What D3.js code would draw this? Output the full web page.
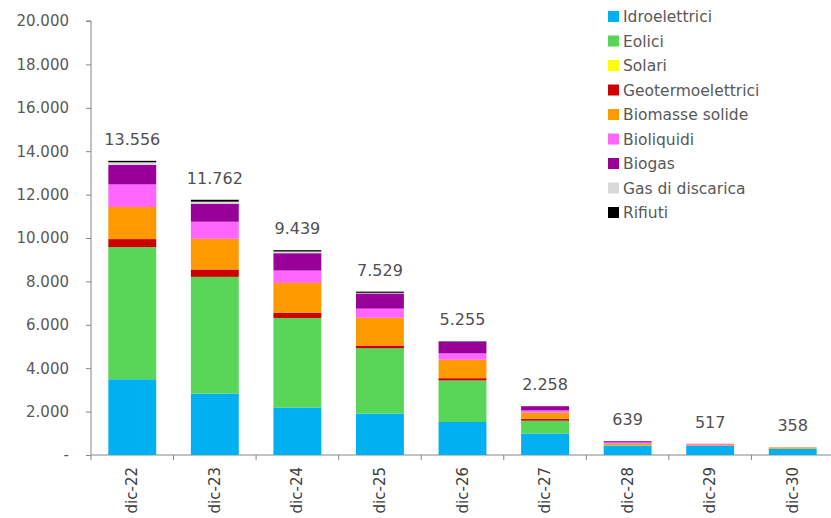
<!DOCTYPE html>
<html><head><meta charset="utf-8">
<script src="https://cdn.jsdelivr.net/npm/d3@7"></script>
<style>body{margin:0;background:#fff}svg{display:block}text{font-family:"DejaVu Sans",Verdana,sans-serif}</style>
</head><body><svg id="c" width="831" height="518"></svg>
<script>
const categories = ["dic-22","dic-23","dic-24","dic-25","dic-26","dic-27","dic-28","dic-29","dic-30"];
const seriesNames = ["Idroelettrici","Eolici","Solari","Geotermoelettrici","Biomasse solide","Bioliquidi","Biogas","Gas di discarica","Rifiuti"];
const colors = ["#00B0F0","#57D657","#FFFF00","#CC0000","#FF9900","#FF66FF","#990099","#D9D9D9","#000000"];
const idroelettrici = [3490,2830,2190,1910,1520,990,430,425,280];
const eolici        = [6090,5380,4125,3010,1915,590,20,2,10];
const solari        = [0,0,0,0,0,0,0,0,0];
const geotermo      = [370,340,245,125,106,92,0,0,0];
const biomasse      = [1480,1415,1370,1280,850,278,70,40,60];
const bioliquidi    = [1040,785,570,420,292,105,60,45,8];
const biogas        = [900,830,800,700,525,195,55,5,0];
const gasDiscarica  = [120,95,78,30,25,5,2,0,0];
const rifiuti       = [66,87,61,54,22,3,2,0,0];
const totals        = [13556,11762,9439,7529,5255,2258,639,517,358];
const yTicks = [0,2000,4000,6000,8000,10000,12000,14000,16000,18000,20000];

const seriesVals = [idroelettrici,eolici,solari,geotermo,biomasse,bioliquidi,biogas,gasDiscarica,rifiuti];
const table = categories.map((c,i)=>{const o={cat:c};seriesNames.forEach((s,j)=>o[s]=seriesVals[j][i]);return o;});
const stack = d3.stack().keys(seriesNames)(table);

const svg = d3.select("#c");
const x0 = 91, x1 = 834, yTop = 21, yBot = 455;
const x = d3.scaleBand().domain(categories).range([x0,x1]).paddingInner(0.42).paddingOuter(0.21);
const y = d3.scaleLinear().domain([0,20000]).range([yBot,yTop]);
const fmt = v => v===0 ? "-" : d3.format(",")(v).replace(/,/g,".");

// y axis
const ya = svg.append("g").attr("transform",`translate(${x0},0)`)
  .call(d3.axisLeft(y).tickValues(yTicks).tickFormat(fmt).tickSize(5).tickPadding(17));
ya.select(".domain").attr("stroke","#868686").attr("d",`M-5,${yTop}H0V${yBot}`);
ya.selectAll(".tick line").attr("stroke","#868686");
ya.selectAll("text").attr("fill","#595959").style("font-size","15px");

// x axis
const xa = svg.append("g").attr("transform",`translate(0,${yBot})`);
xa.append("line").attr("x1",x0).attr("x2",x1).attr("stroke","#868686");
const step = x.step();
d3.range(categories.length+1).forEach(i=>{
  xa.append("line").attr("x1",x0+i*step).attr("x2",x0+i*step).attr("y1",0).attr("y2",5).attr("stroke","#868686");
});
xa.selectAll("text.lbl").data(categories).enter().append("text").attr("class","lbl")
  .attr("transform",d=>`translate(${x(d)+x.bandwidth()/2+5},12) rotate(-90)`)
  .attr("text-anchor","end").attr("fill","#404040").style("font-size","15px").text(d=>d);

// bars
svg.append("g").selectAll("g").data(stack).enter().append("g").attr("fill",(d,i)=>colors[i])
  .selectAll("rect").data(d=>d).enter().append("rect")
  .attr("x",d=>x(d.data.cat)).attr("width",x.bandwidth())
  .attr("y",d=>y(d[1])).attr("height",d=>Math.max(0,y(d[0])-y(d[1])));

// totals
svg.append("g").selectAll("text").data(categories).enter().append("text")
  .attr("x",d=>x(d)+x.bandwidth()/2).attr("y",(d,i)=>y(totals[i])-16)
  .attr("text-anchor","middle").attr("fill","#505050").style("font-size","16px")
  .text((d,i)=>fmt(totals[i]));

// legend
const lg = svg.append("g").attr("transform","translate(608,11)");
seriesNames.forEach((s,i)=>{
  const g = lg.append("g").attr("transform",`translate(0,${i*24.5})`);
  g.append("rect").attr("width",11).attr("height",11).attr("fill",colors[i]);
  g.append("text").attr("x",15).attr("y",11).attr("fill","#595959").style("font-size","15.5px").text(s);
});
</script></body></html>
